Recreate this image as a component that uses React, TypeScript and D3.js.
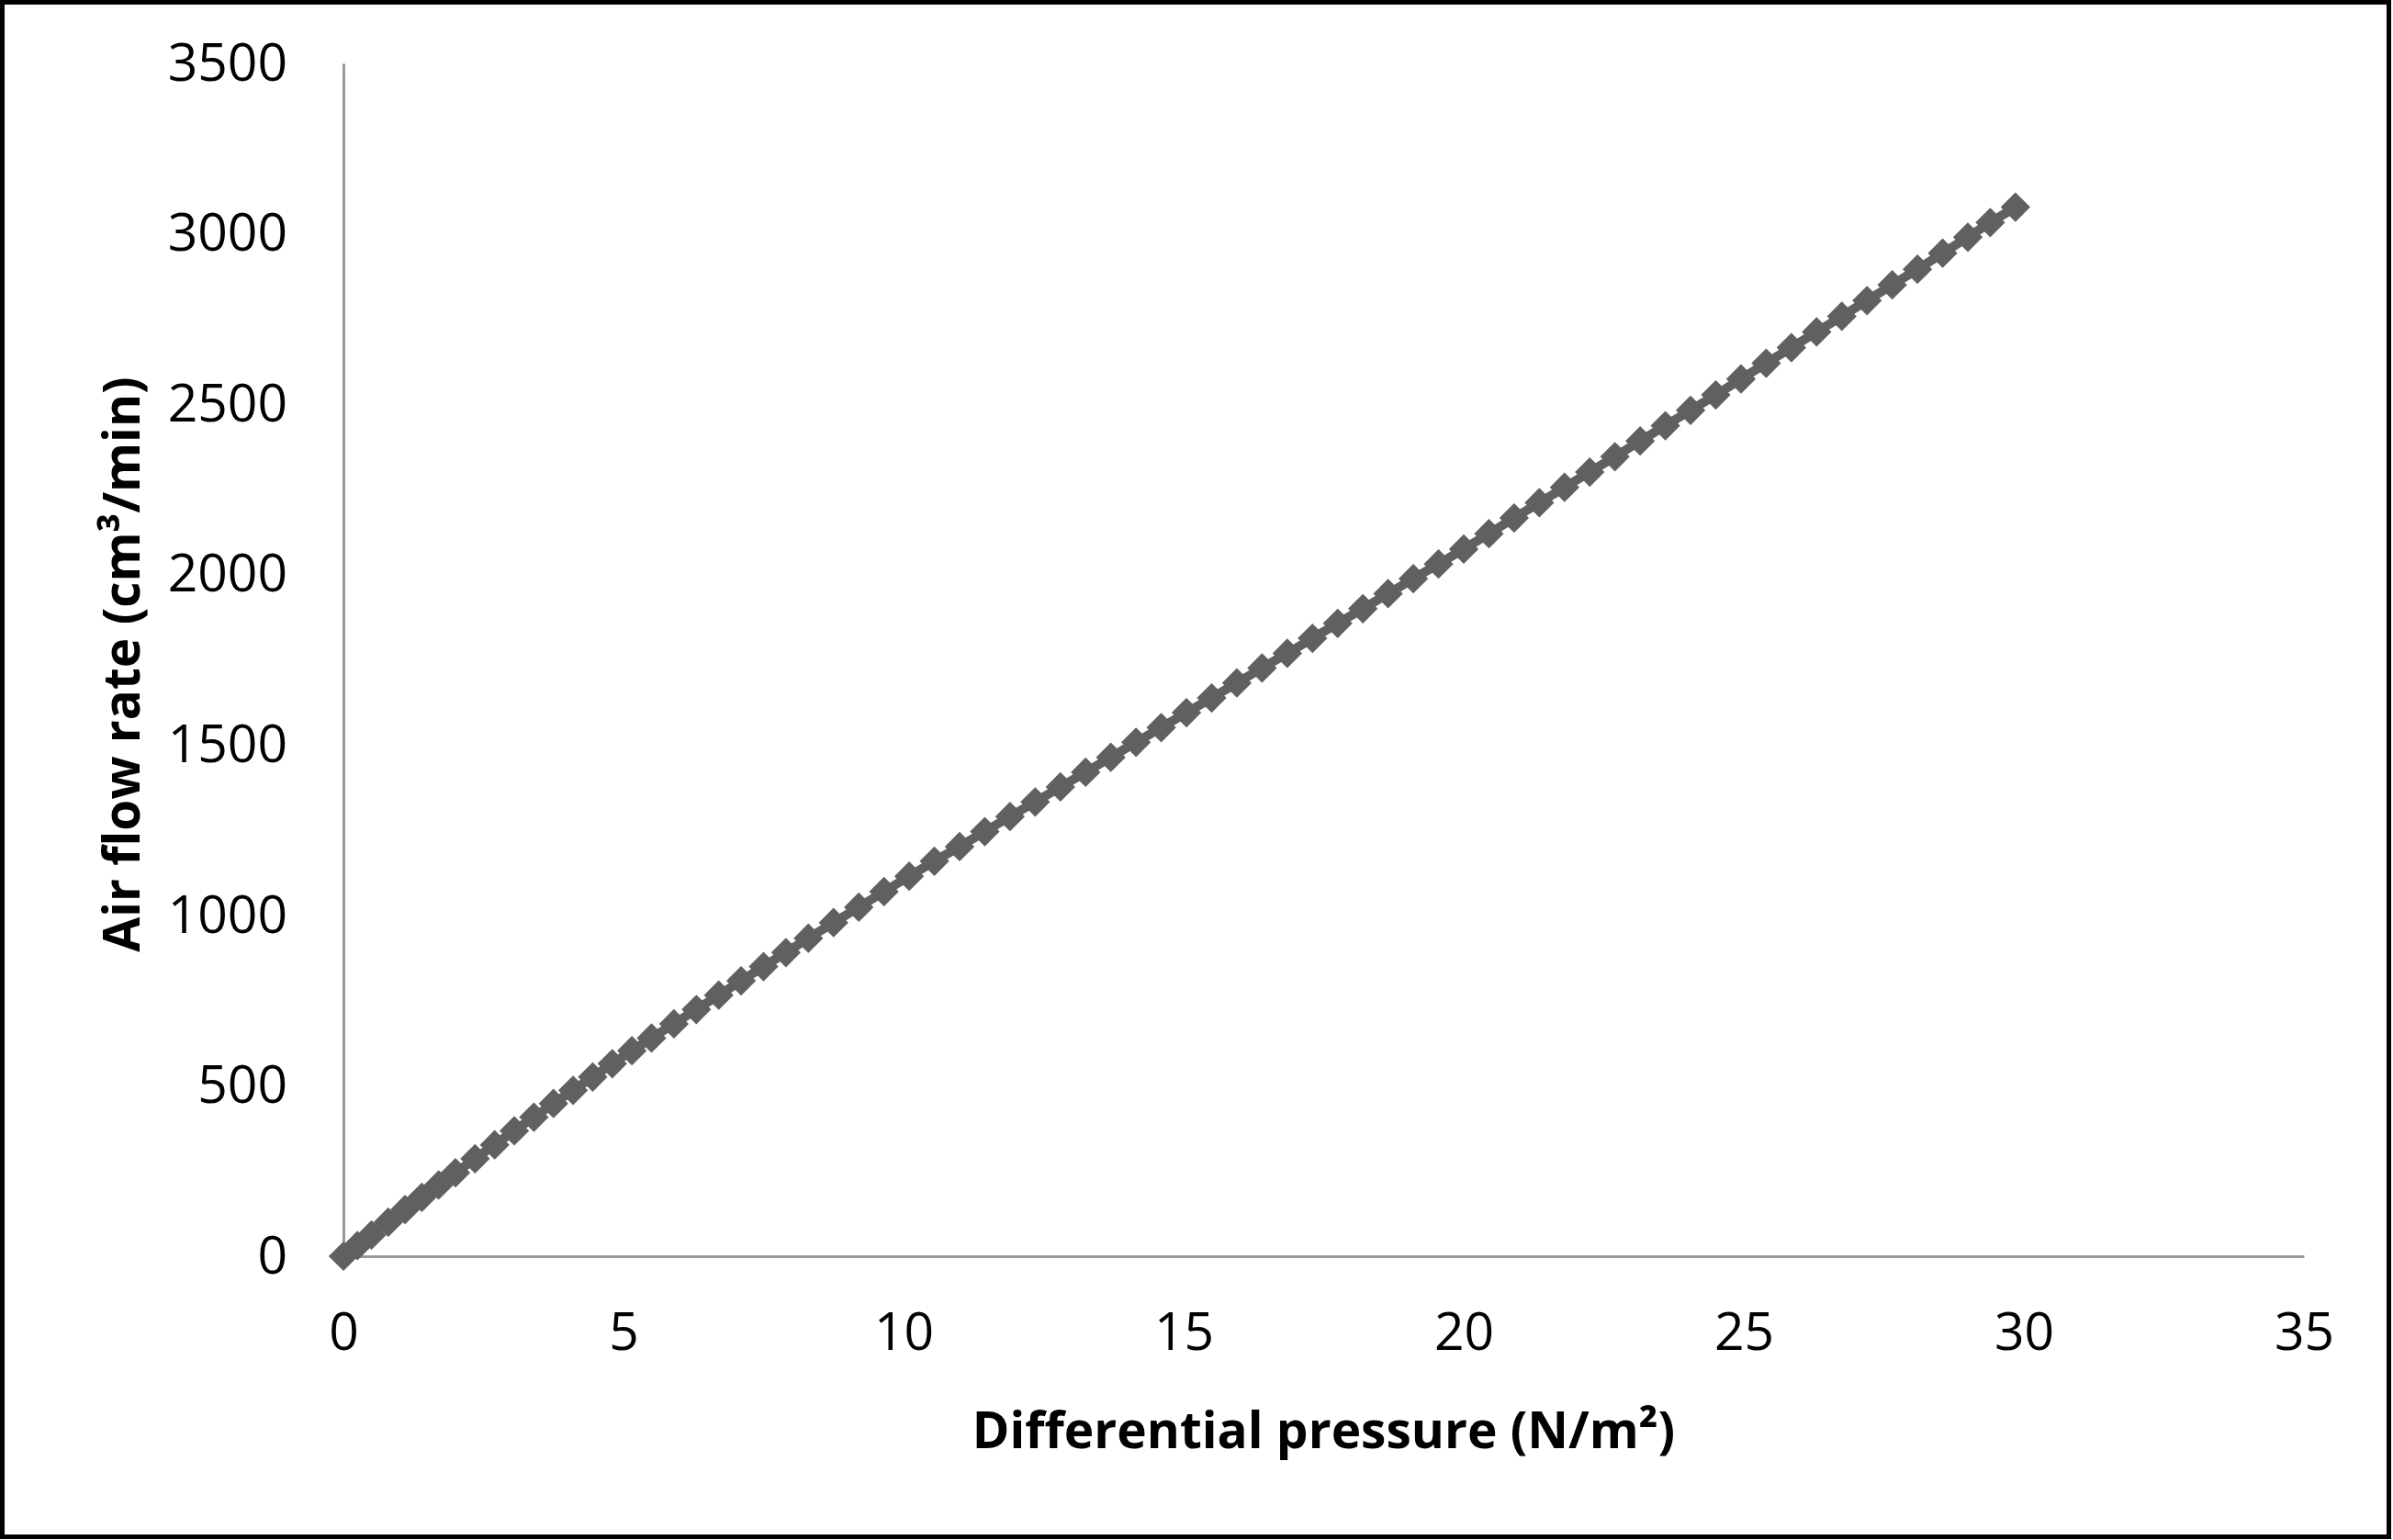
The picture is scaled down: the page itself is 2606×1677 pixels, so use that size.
import React, { useEffect, useRef } from 'react';
import * as d3 from 'd3';

// differential pressure (N/m2)
const pressure = [
  0, 0.25, 0.5, 0.8, 1.1, 1.4, 1.7, 2.0, 2.35, 2.7, 3.05, 3.4, 3.75, 4.1, 4.45, 4.8,
  5.15, 5.5, 5.9, 6.3, 6.7, 7.1, 7.5, 7.9, 8.3, 8.75, 9.2, 9.65, 10.1, 10.55, 11.0,
  11.45, 11.9, 12.35, 12.8, 13.25, 13.7, 14.15, 14.6, 15.05, 15.5, 15.95, 16.4, 16.85,
  17.3, 17.75, 18.2, 18.65, 19.1, 19.55, 20.0, 20.45, 20.9, 21.35, 21.8, 22.25, 22.7,
  23.15, 23.6, 24.05, 24.5, 24.95, 25.4, 25.85, 26.3, 26.75, 27.2, 27.65, 28.1, 28.55,
  29.0, 29.4, 29.85,
];

// air flow rate (cm3/min)
const flowRate = [
  0, 31, 62, 100, 137, 173, 209, 245, 286, 327, 368, 408, 448, 487, 526, 565,
  603, 640, 682, 724, 766, 808, 850, 891, 933, 979, 1024, 1070, 1115, 1159, 1202,
  1246, 1290, 1333, 1377, 1420, 1464, 1508, 1551, 1595, 1638, 1682, 1726, 1769,
  1813, 1857, 1900, 1944, 1988, 2031, 2075, 2120, 2166, 2211, 2256, 2301, 2346,
  2392, 2437, 2482, 2527, 2574, 2620, 2666, 2712, 2758, 2804, 2850, 2896, 2943,
  2990, 3033, 3078,
];

const xTicks = [0, 5, 10, 15, 20, 25, 30, 35];
const yTicks = [0, 500, 1000, 1500, 2000, 2500, 3000, 3500];

const xTitle = 'Differential pressure (N/m\u00B2)';
const yTitle = 'Air flow rate (cm\u00B3/min)';

const W = 2606;
const H = 1677;
const FONT = '"Open Sans", "Noto Sans", sans-serif';

const App = () => {
  const svgRef = useRef<SVGSVGElement>(null);

  useEffect(() => {
    const svg = d3.select(svgRef.current);
    svg.selectAll('*').remove();

    const left = 374, right = 2509, top = 69, bottom = 1368;

    const x = d3.scaleLinear().domain([0, 35]).range([left, right]);
    const y = d3.scaleLinear().domain([0, 3500]).range([bottom, top]);

    svg.append('rect')
      .attr('width', W).attr('height', H).attr('fill', '#fff');

    // outer frame
    svg.append('rect')
      .attr('x', 2.5).attr('y', 2.5)
      .attr('width', 2599).attr('height', 1671)
      .attr('fill', 'none').attr('stroke', '#000').attr('stroke-width', 5);

    // axes
    const yAxis = svg.append('g')
      .attr('transform', `translate(${left},0)`)
      .call(d3.axisLeft(y).tickValues(yTicks).tickFormat(d3.format('d'))
        .tickSize(0).tickSizeOuter(0).tickPadding(61));
    yAxis.select('.domain').attr('stroke', '#989898').attr('stroke-width', 3);
    yAxis.selectAll('text')
      .style('font-family', FONT).style('font-size', '57px').attr('fill', '#000');

    const xAxis = svg.append('g')
      .attr('transform', `translate(0,${bottom})`)
      .call(d3.axisBottom(x).tickValues(xTicks).tickFormat(d3.format('d'))
        .tickSize(0).tickSizeOuter(0).tickPadding(62));
    xAxis.select('.domain').attr('stroke', '#989898').attr('stroke-width', 3);
    xAxis.selectAll('text')
      .style('font-family', FONT).style('font-size', '57px').attr('fill', '#000');

    // axis titles
    svg.append('text')
      .attr('x', (left + right) / 2).attr('y', 1577)
      .attr('text-anchor', 'middle')
      .style('font-family', FONT).style('font-size', '55px').style('font-weight', 700)
      .text(xTitle);

    svg.append('text')
      .attr('transform', `translate(152,${(top + bottom) / 2 + 5}) rotate(-90)`)
      .attr('text-anchor', 'middle')
      .style('font-family', FONT).style('font-size', '55px').style('font-weight', 700)
      .text(yTitle);

    const data = pressure.map((p, i) => ({ p, q: flowRate[i] }));

    // series line
    const line = d3.line<{ p: number; q: number }>()
      .x(d => x(d.p))
      .y(d => y(d.q));

    svg.append('path')
      .datum(data)
      .attr('fill', 'none')
      .attr('stroke', '#606060')
      .attr('stroke-width', 10)
      .attr('d', line);

    // diamond markers
    const diamond = d3.symbol().type(d3.symbolSquare).size(520);
    svg.append('g')
      .selectAll('path')
      .data(data)
      .join('path')
      .attr('transform', d => `translate(${x(d.p)},${y(d.q)}) rotate(45)`)
      .attr('d', diamond())
      .attr('fill', '#606060');
  }, []);

  return (
    <div style={{ position: 'absolute', left: 0, top: 0 }}>
      <svg ref={svgRef} width={W} height={H} style={{ display: 'block' }} />
    </div>
  );
};

export default App;
